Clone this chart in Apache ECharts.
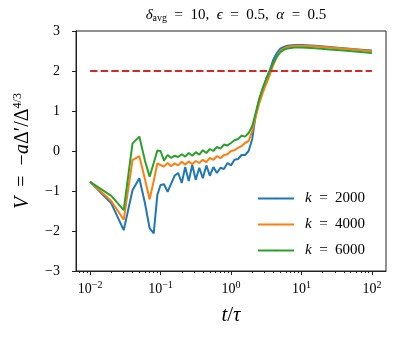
<!DOCTYPE html>
<html>
<head>
<meta charset="utf-8">
<script src="https://cdn.jsdelivr.net/npm/echarts@6/dist/echarts.min.js"></script>
<style>
html, body { margin: 0; padding: 0; background: #fff; }
#container { width: 396px; height: 338px; }
</style>
</head>
<body>
<div id="container"></div>
<script>
// t / tau sample times
var tValues = [
    0.01, 0.02, 0.03, 0.04, 0.05, 0.06, 0.07, 0.08, 0.09, 0.1,
    0.112, 0.126, 0.141, 0.158, 0.178, 0.2, 0.224, 0.251, 0.282, 0.316, 0.355, 0.398, 0.447,
    0.501, 0.562, 0.631, 0.708, 0.794, 0.891, 1.0, 1.12, 1.26, 1.41, 1.58, 1.78, 2.0,
    2.24, 2.51, 2.82, 3.16, 3.55, 3.98, 4.47, 5.01, 5.62, 6.31, 7.94, 10, 15.8, 25.1, 39.8, 63.1, 100
];
var k2000 = [
    -0.77, -1.31, -1.98, -0.98, -0.68, -1.3, -1.93, -2.06, -1.1, -0.85,
    -0.83, -1.02, -0.82, -0.62, -0.55, -0.8, -0.4, -0.75, -0.35, -0.72, -0.42, -0.68, -0.36,
    -0.62, -0.4, -0.55, -0.42, -0.45, -0.3, -0.36, -0.22, -0.2, -0.1, -0.1, 0.0, 0.3,
    0.9, 1.28, 1.55, 1.8, 2.02, 2.28, 2.45, 2.56, 2.6, 2.63, 2.65, 2.65, 2.63, 2.6, 2.57, 2.54, 2.51
];
var k4000 = [
    -0.77, -1.25, -1.72, -0.23, -0.13, -0.7, -1.21, -0.75, -0.31, -0.35,
    -0.39, -0.3, -0.38, -0.31, -0.36, -0.27, -0.34, -0.26, -0.33, -0.25, -0.3, -0.22, -0.28,
    -0.17, -0.22, -0.13, -0.18, -0.1, -0.08, 0.0, 0.02, 0.08, 0.12, 0.2, 0.25, 0.5,
    0.85, 1.18, 1.45, 1.68, 1.9, 2.15, 2.35, 2.5, 2.56, 2.6, 2.63, 2.63, 2.62, 2.59, 2.56, 2.53, 2.5
];
var k6000 = [
    -0.77, -1.12, -1.48, 0.19, 0.36, -0.24, -0.64, -0.3, 0.01, 0.0,
    -0.24, -0.1, -0.17, -0.12, -0.15, -0.08, -0.14, -0.05, -0.12, -0.03, -0.09, 0.02, -0.05,
    0.05, 0.0, 0.1, 0.06, 0.16, 0.14, 0.2, 0.27, 0.3, 0.38, 0.36, 0.45, 0.62,
    0.95, 1.3, 1.58, 1.8, 2.0, 2.2, 2.36, 2.47, 2.53, 2.56, 2.59, 2.59, 2.57, 2.54, 2.51, 2.48, 2.45
];
var kLabels = ['2000', '4000', '6000'];
var lineColors = ['#1f77b4', '#ff7f0e', '#2ca02c'];
var refT = [0.01, 100];
var refLevel = [2, 2];
var xDecades = [-2, -1, 0, 1, 2];   // 10^n tick labels
var yTicks = [-3, -2, -1, 0, 1, 2, 3];

var serif = "'Liberation Serif', 'DejaVu Serif', serif";
var EQ = '\u2002=\u2002';

function toPairs(ts, vs) {
    return ts.map(function (t, i) { return [Math.log10(t), vs[i]]; });
}

// minor ticks 2..9 x 10^n on the log scale
var minorTicks = [];
for (var d = -3; d <= 2; d++) {
    for (var m = 2; m <= 9; m++) {
        var lv = Math.log10(m * Math.pow(10, d));
        if (lv > -2.2 && lv < 2.2) minorTicks.push(lv);
    }
}

var myChart = echarts.init(document.getElementById('container'));

var lineSeries = [k2000, k4000, k6000].map(function (vals, i) {
    return {
        name: 'k = ' + kLabels[i],
        type: 'line',
        data: toPairs(tValues, vals),
        symbol: 'none',
        lineStyle: { color: lineColors[i], width: 2 },
        itemStyle: { color: lineColors[i] },
        animation: false
    };
});

lineSeries.push({
    name: 'ref',
    type: 'line',
    data: toPairs(refT, refLevel),
    symbol: 'none',
    lineStyle: { color: '#d62728', width: 2, type: [7.4, 3.2] },
    animation: false
});

var option = {
    backgroundColor: '#fff',
    title: {
        text: '{g|δ}{sub|avg}' + EQ + '10,\u2002{g|ϵ}' + EQ + '0.5,\u2002{g|α}' + EQ + '0.5',
        left: 231,
        top: 3,
        textAlign: 'center',
        textStyle: {
            fontFamily: serif,
            fontSize: 15,
            fontWeight: 'normal',
            color: '#000',
            rich: {
                g: { fontFamily: serif, fontSize: 15, fontStyle: 'italic', color: '#000' },
                sub: { fontFamily: serif, fontSize: 10, color: '#000', verticalAlign: 'bottom', lineHeight: 10 }
            }
        }
    },
    legend: {
        data: lineSeries.slice(0, 3).map(function (s) { return s.name; }),
        orient: 'vertical',
        left: 257,
        top: 191,
        padding: 0,
        itemWidth: 36,
        itemHeight: 2,
        itemGap: 11,
        formatter: function (name) {
            return '{i|k}' + EQ + name.split(' = ')[1];
        },
        textStyle: {
            fontFamily: serif,
            fontSize: 15,
            color: '#000',
            lineHeight: 14,
            padding: [0, 0, 0, 6],
            rich: {
                i: { fontFamily: serif, fontSize: 15, fontStyle: 'italic', color: '#000' }
            }
        }
    },
    grid: {
        left: 76,
        right: 10,
        top: 31,
        bottom: 67,
        show: true,
        borderColor: '#222',
        borderWidth: 1
    },
    xAxis: [{
        type: 'value',
        min: -2.2,
        max: 2.2,
        name: '{i|t}/{i|τ}',
        nameLocation: 'middle',
        nameGap: 34,
        nameTextStyle: {
            fontFamily: serif,
            fontSize: 21,
            color: '#000',
            rich: { i: { fontFamily: serif, fontSize: 21, fontStyle: 'italic', color: '#000' } }
        },
        splitLine: { show: false },
        axisLine: { onZero: false, lineStyle: { color: '#222', width: 1 } },
        axisTick: { customValues: xDecades, length: 4, lineStyle: { color: '#222' } },
        axisLabel: {
            customValues: xDecades,
            margin: 9,
            formatter: function (v) {
                var n = Math.round(v);
                return '{b|10}{s|' + (n < 0 ? '−' + (-n) : n) + '}';
            },
            rich: {
                b: { fontFamily: serif, fontSize: 14, color: '#000', lineHeight: 18 },
                s: { fontFamily: serif, fontSize: 10, color: '#000', verticalAlign: 'top', lineHeight: 11 }
            }
        }
    }, {
        type: 'value',
        min: -2.2,
        max: 2.2,
        position: 'bottom',
        splitLine: { show: false },
        axisLine: { show: false, onZero: false },
        axisTick: { customValues: minorTicks, length: 2, lineStyle: { color: '#222' } },
        axisLabel: { show: false }
    }],
    yAxis: {
        type: 'value',
        min: -3,
        max: 3,
        interval: 1,
        name: '{i|V}' + EQ + '−{i|a}Δ′/Δ{s|4/3}',
        nameLocation: 'middle',
        nameRotate: 90,
        nameGap: 28,
        nameTextStyle: {
            fontFamily: serif,
            fontSize: 20,
            color: '#000',
            lineHeight: 22,
            rich: {
                i: { fontFamily: serif, fontSize: 20, fontStyle: 'italic', color: '#000', lineHeight: 22 },
                s: { fontFamily: serif, fontSize: 12, color: '#000', verticalAlign: 'top', lineHeight: 12 }
            }
        },
        splitLine: { show: false },
        axisLine: { onZero: false, lineStyle: { color: '#222', width: 1 } },
        axisTick: { length: 4, lineStyle: { color: '#222' } },
        axisLabel: {
            margin: 16,
            fontFamily: serif,
            fontSize: 14,
            color: '#000',
            formatter: function (v) { return v < 0 ? '−' + (-v) : String(v); }
        }
    },
    series: lineSeries
};

myChart.setOption(option);
</script>
</body>
</html>
